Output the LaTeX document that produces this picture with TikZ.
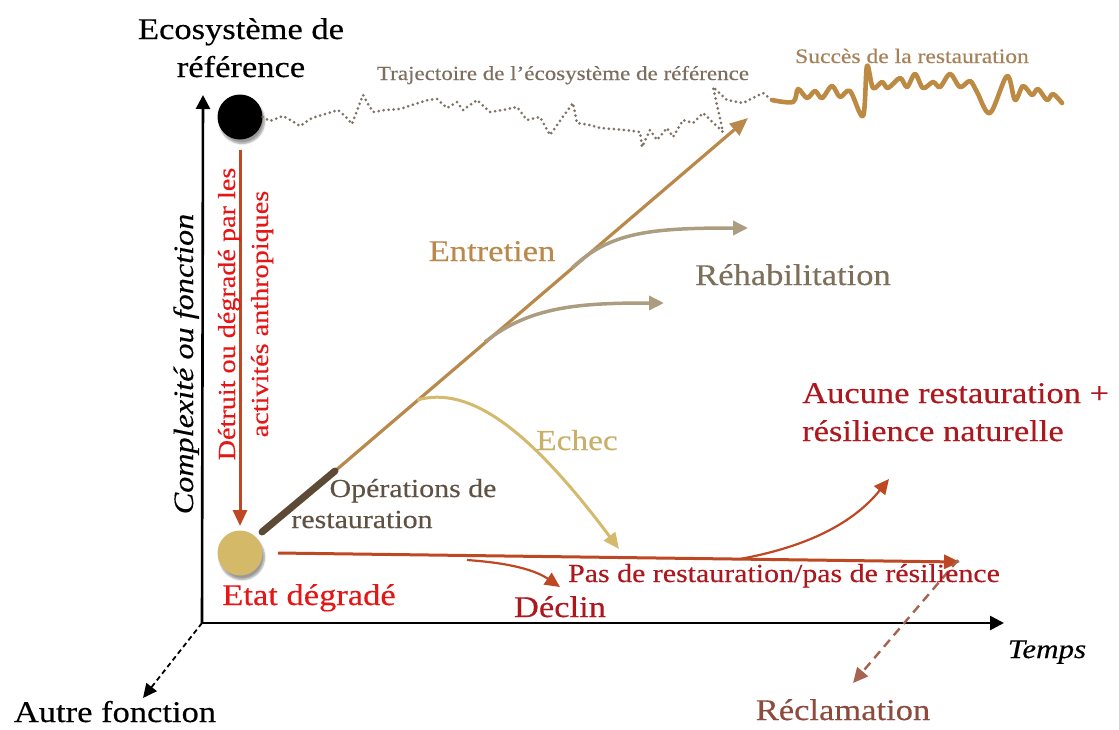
\documentclass[tikz,border=0pt]{standalone}
\usepackage{fontspec}
\setmainfont{Liberation Serif}[FakeStretch=1.15,FakeBold=0.35]
\usetikzlibrary{arrows.meta,shadows.blur}
\definecolor{rust}{RGB}{190,72,35}
\definecolor{brightred}{RGB}{228,22,22}
\definecolor{darkred}{RGB}{172,24,30}
\definecolor{tanmain}{RGB}{185,137,75}
\definecolor{rehabarr}{RGB}{172,157,128}
\definecolor{rehabtxt}{RGB}{125,112,90}
\definecolor{echecarr}{RGB}{212,186,108}
\definecolor{echectxt}{RGB}{200,176,106}
\definecolor{opstxt}{RGB}{95,82,68}
\definecolor{opsline}{RGB}{92,74,54}
\definecolor{degcirc}{RGB}{212,185,105}
\definecolor{trajtxt}{RGB}{125,110,95}
\definecolor{trajdot}{RGB}{128,114,100}
\definecolor{succtxt}{RGB}{165,130,90}
\definecolor{succline}{RGB}{188,138,66}
\definecolor{reclarr}{RGB}{165,100,80}
\definecolor{recltxt}{RGB}{140,75,60}
\tikzset{
  fbig/.style={font=\fontsize{30}{38}\selectfont},
  fmid/.style={font=\fontsize{26}{31}\selectfont},
  fsmall/.style={font=\fontsize{20}{24}\selectfont},
  axisline/.style={line width=2.6pt,-{Triangle[length=14pt,width=14pt]}},
  tip/.style={-{Triangle[length=16pt,width=14pt]}},
  lbl/.style={inner sep=0pt,anchor=base},
}
\begin{document}
\begin{tikzpicture}[x=1pt,y=-1pt]
\useasboundingbox (0,0) rectangle (1119,729);
% coordinates
\coordinate (O) at (202,623);
\coordinate (ytop) at (203,95);
\coordinate (xend) at (1004,623);
\coordinate (zend) at (143,698);
\coordinate (opsA) at (262,532);
\coordinate (opsB) at (335,471);
\coordinate (mainEnd) at (748,118);
\coordinate (rh1s) at (572,268);
\coordinate (rh1e) at (748,228);
\coordinate (rh2s) at (485,342);
\coordinate (rh2e) at (664,303);
\coordinate (ecs) at (417,400);
\coordinate (ece) at (619,549);
\coordinate (hs) at (278,553);
\coordinate (he) at (960,562);
\coordinate (ds) at (467,560);
\coordinate (de) at (560,587);
\coordinate (rs) at (740,559);
\coordinate (re) at (889,479);
\coordinate (cls) at (958,560);
\coordinate (cle) at (853,683);
\coordinate (redTop) at (240,150);
\coordinate (redEnd) at (240,526);

% axes
\draw[axisline] (O) -- (ytop);
\draw[axisline] (O) -- (xend);
\draw[line width=1.8pt,dash pattern=on 5pt off 3.5pt,-{Triangle[length=14pt,width=13pt]}] (O) -- (zend);

% circles
\node[circle,fill=black,minimum size=45pt,inner sep=0pt,
  blur shadow={shadow xshift=2pt,shadow yshift=-4pt,shadow blur steps=6}] (ref) at (240,117) {};
\node[circle,fill=degcirc,minimum size=45pt,inner sep=0pt,
  blur shadow={shadow xshift=2pt,shadow yshift=-4pt,shadow blur steps=6}] (deg) at (240,553) {};

% trajectory dotted
\draw[trajdot,line width=3pt,dash pattern=on 0pt off 5pt,line cap=round,line join=round]
  (ref.east) -- (270,121) -- (283,116) -- (292,121) -- (300,126) -- (312,118) -- (325,114) -- (338,110)
  -- (346,117) -- (352,124) -- (358,108) -- (363,95) -- (368,104) -- (373,112) -- (385,110) -- (400,109)
  -- (415,104) -- (428,100) -- (437,99) -- (447,108) -- (457,102) -- (463,110) -- (477,100) -- (490,112)
  -- (503,110) -- (517,107) -- (527,120) -- (540,117) -- (550,135) -- (562,118) -- (573,103) -- (577,123)
  -- (590,125) -- (600,128) -- (613,129) -- (625,130) -- (640,132) -- (642,147) -- (650,130) -- (657,140)
  -- (667,128) -- (673,137) -- (683,120) -- (693,123) -- (703,113) -- (723,132) -- (713,87) -- (727,100)
  -- (743,103) -- (763,93) -- (772,100);
% success wiggle
\draw[succline,line width=4.6pt,line cap=round,line join=round]
  plot[smooth,tension=0.55] coordinates {
  (772,100) (793,102) (798,89) (807,98) (815,91) (822,98) (832,86) (840,97)
  (850,91) (863,116) (867,66) (873,88) (882,82) (888,88) (900,78) (907,87)
  (915,74) (923,88) (933,82) (940,87) (950,74) (960,87) (970,81) (977,92)
  (990,113) (1007,76) (1015,100) (1023,86) (1032,95) (1038,89) (1047,100)
  (1053,94) (1062,103)};

% red vertical arrow
\draw[rust,line width=3pt,tip] (redTop) -- (redEnd);

% main restoration trajectory
\draw[tanmain,line width=3.2pt,-{Triangle[length=18pt,width=15pt]}] (opsB) -- (mainEnd);
\draw[opsline,line width=7pt,line cap=round] (opsA) -- (opsB);

% rehabilitation branches
\draw[rehabarr,line width=3.5pt,-{Triangle[length=15pt,width=14pt]}]
  (rh1s) .. controls (610,232) and (650,228) .. (rh1e);
\draw[rehabarr,line width=3.5pt,-{Triangle[length=15pt,width=14pt]}]
  (rh2s) .. controls (530,306) and (580,303) .. (rh2e);
% echec
\draw[echecarr,line width=3pt,-{Triangle[length=16pt,width=14pt]}]
  (ecs) .. controls (470,385) and (530,430) .. (ece);

% red horizontal and branches
\draw[rust,line width=3pt,tip] (hs) -- (he);
\draw[rust,line width=2.2pt,-{Triangle[length=15pt,width=14pt]}]
  (ds) .. controls (510,563) and (535,570) .. (de);
\draw[rust,line width=2.2pt,-{Triangle[length=15pt,width=14pt]}]
  (rs) .. controls (800,548) and (850,527) .. (re);
% reclamation dashed
\draw[reclarr,line width=2.4pt,dash pattern=on 9pt off 6pt,-{Triangle[length=15pt,width=14pt]}]
  (cls) -- (cle);

% labels
\node[lbl,fbig,align=center] (ecot) at (241,77) {Ecosystème de\\référence};
\node[lbl,fbig] (autre) at (115,722) {Autre fonction};
\node[lbl,fbig,font=\fontsize{27}{32}\selectfont\itshape] (temps) at (1047,658) {Temps};
\node[lbl,font=\fontsize{28}{32}\selectfont\itshape,rotate=90] (complex) at (193,364) {Complexité ou fonction};
\node[lbl,font=\fontsize{24.5}{30}\selectfont,text=brightred,rotate=90] (detr1) at (235,314) {Détruit ou dégradé par les};
\node[lbl,font=\fontsize{24.5}{30}\selectfont,text=brightred,rotate=90] (detr2) at (268,314) {activités anthropiques};
\node[lbl,fbig,text=brightred] (etat) at (309,605) {Etat dégradé};
\node[lbl,fbig,text=darkred] (declin) at (560,617) {Déclin};
\node[lbl,fmid,text=darkred] (pasde) at (784,582) {Pas de restauration/pas de résilience};
\node[lbl,fbig,text=darkred,anchor=base west,align=left] (aucune) at (802,441) {Aucune restauration +\\résilience naturelle};
\node[lbl,fbig,text=recltxt] (recl) at (843,720) {Réclamation};
\node[lbl,fbig,text=tanmain] (entr) at (492,261) {Entretien};
\node[lbl,fbig,text=rehabtxt] (rehab) at (793,285) {Réhabilitation};
\node[lbl,font=\fontsize{29}{34}\selectfont,text=echectxt] (echec) at (577,450) {Echec};
\node[lbl,fmid,text=opstxt] (ops1) at (413,497) {Opérations de};
\node[lbl,fmid,text=opstxt] (ops2) at (362,528) {restauration};
\node[lbl,fsmall,text=trajtxt] (traj) at (563,80) {Trajectoire de l’écosystème de référence};
\node[lbl,font=\fontsize{20.5}{24}\selectfont,text=succtxt] (succ) at (912,63) {Succès de la restauration};
\end{tikzpicture}
\end{document}
